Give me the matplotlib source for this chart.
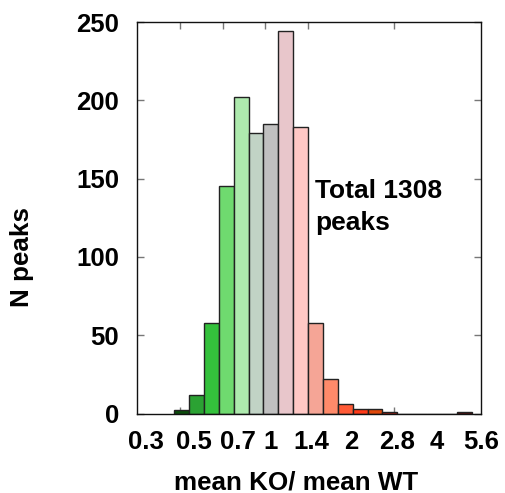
import matplotlib
matplotlib.use("Agg")
import matplotlib.pyplot as plt
import numpy as np

# bin index (centres at -1.5 + k*4/23 in log2 units) and counts
bin_index = [3, 4, 5, 6, 7, 8, 9, 10, 11, 12, 13, 14, 15, 16, 17, 18, 19, 20, 21, 22]
counts = [2, 12, 58, 145, 202, 179, 185, 244, 183, 58, 22, 6, 3, 3, 1, 0, 0, 0, 0, 1]
bar_colors = ['#0b4d0b', '#2ba233', '#34c13c', '#6fda6f', '#aeeaae', '#c1d3c5',
              '#c0c0c0', '#e8c6cb', '#ffc8c5', '#f5a596', '#ff8a6a', '#ff5a36',
              '#ff3a18', '#e0480a', '#b82010', '#ffffff', '#ffffff', '#ffffff',
              '#ffffff', '#5c0a0a']
tick_ratios = [0.5, 0.7071, 1, 1.4142, 2, 2.8284, 4]
xlabels = ['0.3', '0.5', '0.7', '1', '1.4', '2', '2.8', '4', '5.6']
xlabel_pos = [-1.395, -0.837, -0.325, 0.062, 0.535, 1.0, 1.547, 2.0, 2.523]
yticks = [0, 50, 100, 150, 200, 250]

plt.rcParams['font.family'] = ['Liberation Sans', 'DejaVu Sans']
plt.rcParams['font.weight'] = 'bold'

fig = plt.figure(figsize=(5.06, 4.93), dpi=100)
ax = fig.add_axes([137/506, 1 - 413.5/493, 344/506, (413.5-22)/493])

w = 4/23
centers = [-1.5 + k*w for k in bin_index]
ax.bar(centers, counts, width=w, color=bar_colors, edgecolor='#222222',
       linewidth=1.0, zorder=2)

ax.set_xlim(-1.5, 2.5)
ax.set_ylim(0, 250)

ax.set_xticks(np.log2(tick_ratios), minor=True)
ax.set_xticks(xlabel_pos)
ax.set_xticklabels(xlabels, fontsize=18.5, fontweight='bold')
ax.tick_params(axis='x', which='major', length=0, pad=12)
ax.tick_params(axis='x', which='minor', direction='in', length=5, width=1,
               color='#777777', top=True, bottom=True)
ax.set_yticks(yticks)
ax.set_yticklabels([str(v) for v in yticks], fontsize=18.5, fontweight='bold')
ax.tick_params(axis='y', direction='in', length=5, width=1, color='#777777',
               left=True, right=True, pad=13)

for s in ax.spines.values():
    s.set_color('#111111')
    s.set_linewidth(1.0)

ax.text(0.581, 132, 'Total 1308\npeaks', fontsize=19, fontweight='bold',
        ha='left', va='center', linespacing=1.4)

ax.set_xlabel('mean KO/ mean WT', fontsize=18.7, fontweight='bold', va='center')
ax.xaxis.set_label_coords((296-137)/344, -(482-413.5)/391.5)
ax.set_ylabel('N peaks', fontsize=18.7, fontweight='bold', va='center')
ax.yaxis.set_label_coords(-(137-22)/344, (413.5-257)/391.5)

fig.savefig('out.png', dpi=100)
